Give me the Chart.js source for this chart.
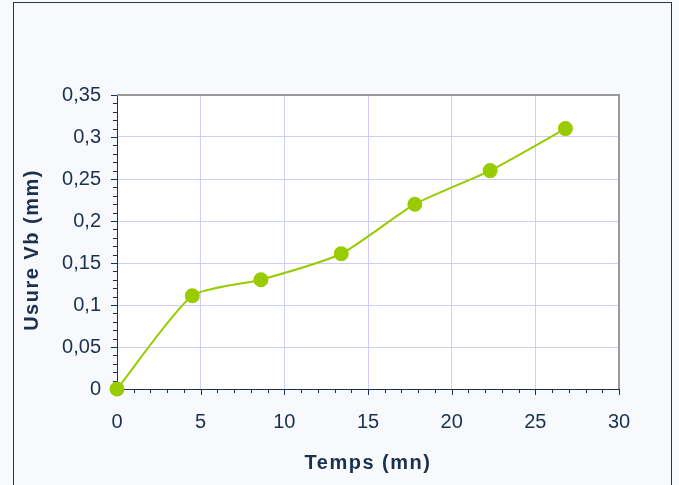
<!DOCTYPE html>
<html lang="fr">
<head>
    <meta charset="UTF-8">
    <title>Usure Vb</title>
    <style>
        html, body {
            margin: 0;
            padding: 0;
            background-color: #f7f9fc;
            overflow: hidden;
        }
        .frame {
            position: absolute;
            left: 13px;
            top: 2px;
            width: 657px;
            height: 520px;
            border: 1.5px solid #1f3656;
        }
        .chart-container {
            position: absolute;
            left: 0;
            top: 0;
            width: 679px;
            height: 485px;
        }
    </style>
</head>
<body>
    <div class="frame"></div>
    <div class="chart-container">
        <canvas id="chart" width="679" height="485"></canvas>
    </div>

    <script src="https://cdn.jsdelivr.net/npm/chart.js"></script>

    <script>
        // data
        const temps = [0, 4.5, 8.6, 13.4, 17.8, 22.3, 26.8];
        const usure = [0, 0.111, 0.13, 0.161, 0.22, 0.26, 0.31];
        const xTickLabels = ['0', '5', '10', '15', '20', '25', '30'];
        const yTickLabels = ['0', '0,05', '0,1', '0,15', '0,2', '0,25', '0,3', '0,35'];

        const navy = '#19304f';
        const green = '#99cc00';

        // white plot area, grey frame top/right, minor ticks, axis titles
        const decor = {
            id: 'decor',
            beforeDraw(chart) {
                const { ctx, chartArea: a } = chart;
                ctx.save();
                ctx.fillStyle = '#ffffff';
                ctx.fillRect(a.left, a.top, a.right - a.left, a.bottom - a.top);
                ctx.restore();
            },
            beforeDatasetsDraw(chart) {
                const { ctx, chartArea: a, scales } = chart;
                ctx.save();
                // grey frame
                ctx.strokeStyle = '#999999';
                ctx.lineWidth = 2;
                ctx.beginPath();
                ctx.moveTo(a.left, a.top);
                ctx.lineTo(a.right, a.top);
                ctx.lineTo(a.right, a.bottom);
                ctx.stroke();

                // ticks
                ctx.strokeStyle = navy;
                ctx.lineWidth = 1;
                ctx.beginPath();
                for (let i = 0; i <= 35; i++) {
                    const y = Math.round(scales.y.getPixelForValue(i / 100)) + 0.5;
                    const len = i % 5 === 0 ? 6 : 4;
                    ctx.moveTo(a.left - len, y);
                    ctx.lineTo(a.left, y);
                }
                for (let i = 0; i <= 30; i++) {
                    const x = Math.round(scales.x.getPixelForValue(i)) + 0.5;
                    const len = i % 5 === 0 ? 6 : 4;
                    ctx.moveTo(x, a.bottom);
                    ctx.lineTo(x, a.bottom + len);
                }
                ctx.stroke();

                // axis titles
                ctx.fillStyle = navy;
                ctx.font = 'bold 20px "Liberation Sans", Arial, sans-serif';
                ctx.textAlign = 'center';
                ctx.textBaseline = 'middle';
                ctx.letterSpacing = '1.5px';
                ctx.fillText('Temps (mn)', (a.left + a.right) / 2, 463);
                ctx.translate(32, 250);
                ctx.rotate(-Math.PI / 2);
                ctx.fillText('Usure Vb (mm)', 0, 0);
                ctx.restore();
            }
        };

        new Chart(document.getElementById('chart').getContext('2d'), {
            type: 'scatter',
            data: {
                datasets: [{
                    label: 'Usure Vb',
                    data: temps.map((t, i) => ({ x: t, y: usure[i] })),
                    showLine: true,
                    borderColor: green,
                    borderWidth: 2,
                    backgroundColor: green,
                    pointBackgroundColor: green,
                    pointBorderColor: green,
                    pointRadius: 6.5,
                    tension: 0.2,
                    clip: false
                }]
            },
            options: {
                responsive: false,
                animation: false,
                devicePixelRatio: 1,
                layout: {
                    padding: { left: 0, top: 95, right: 60, bottom: 0 }
                },
                plugins: {
                    legend: { display: false },
                    tooltip: { enabled: false }
                },
                scales: {
                    x: {
                        type: 'linear',
                        min: 0,
                        max: 30,
                        afterFit(scale) { scale.height = 96; },
                        ticks: {
                            stepSize: 5,
                            padding: 21,
                            color: navy,
                            font: { family: '"Liberation Sans", Arial, sans-serif', size: 20 },
                            callback: (v, i) => xTickLabels[i]
                        },
                        grid: {
                            color: '#ccccff',
                            lineWidth: 1,
                            drawTicks: false
                        },
                        border: { color: navy, width: 1 }
                    },
                    y: {
                        min: 0,
                        max: 0.35,
                        afterFit(scale) { scale.width = 117; },
                        ticks: {
                            stepSize: 0.05,
                            padding: 16,
                            color: navy,
                            font: { family: '"Liberation Sans", Arial, sans-serif', size: 20 },
                            callback: (v, i) => yTickLabels[i]
                        },
                        grid: {
                            color: '#ccccff',
                            lineWidth: 1,
                            drawTicks: false
                        },
                        border: { color: navy, width: 1 }
                    }
                }
            },
            plugins: [decor]
        });
    </script>
</body>
</html>
